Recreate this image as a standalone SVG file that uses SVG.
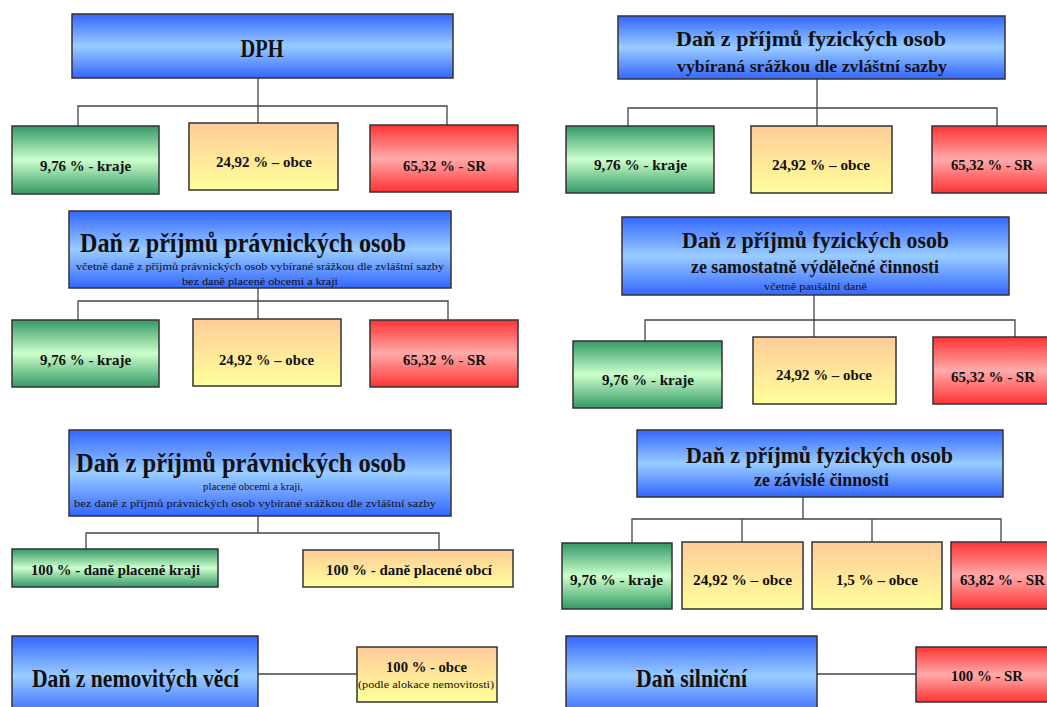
<svg xmlns="http://www.w3.org/2000/svg" width="1047" height="707" viewBox="0 0 1047 707">
<defs>
<linearGradient id="gBlue" x1="0" y1="0" x2="0" y2="1"><stop offset="0" stop-color="#3366ff"/><stop offset="0.5" stop-color="#99ccff"/><stop offset="1" stop-color="#3366ff"/></linearGradient>
<linearGradient id="gGreen" x1="0" y1="0" x2="0" y2="1"><stop offset="0" stop-color="#339966"/><stop offset="0.5" stop-color="#ccffcc"/><stop offset="1" stop-color="#339966"/></linearGradient>
<linearGradient id="gOrange" x1="0" y1="0" x2="0" y2="1"><stop offset="0" stop-color="#ffcc99"/><stop offset="1" stop-color="#ffff99"/></linearGradient>
<linearGradient id="gRed" x1="0" y1="0" x2="0" y2="1"><stop offset="0" stop-color="#ff3333"/><stop offset="0.5" stop-color="#ffaaaa"/><stop offset="1" stop-color="#ff3333"/></linearGradient>
</defs>
<style>
.box{stroke:#333;stroke-width:1.5}
.blue{fill:url(#gBlue)}
.green{fill:url(#gGreen)}
.orange{fill:url(#gOrange)}
.red{fill:url(#gRed)}
text{font-family:"Liberation Serif","Times New Roman",serif;font-weight:bold;fill:#111;text-anchor:middle}
.lbl{font-size:15px}
.sm{font-size:11px;font-weight:normal}
.conn path{fill:none;stroke:#444;stroke-width:1.3}
</style>
<rect x="0" y="0" width="1047" height="707" fill="#fff"/>
<g class="conn">
<path d="M258,78V106M78,126V106H447V125M258,106V123"/>
<path d="M817,79V108M628,126V108H997V126M817,108V126"/>
<path d="M258,288V301M78,320V301H448V320M258,301V319"/>
<path d="M814,295V320M645,341V320H1015V337M814,320V337"/>
<path d="M258,516V533M86,549V533H439V550"/>
<path d="M803,497V519M632,543V519H1001V542M742,519V542M872,519V542"/>
<path d="M258,674H357"/>
<path d="M817,674H916"/>
</g>
<g id="n-dph"><rect class="box blue" x="72" y="14" width="381" height="64"/><text x="262" y="57" font-size="26" textLength="43" lengthAdjust="spacingAndGlyphs">DPH</text></g>
<g id="n-dph-kraje"><rect class="box green" x="12" y="126" width="147" height="68"/><text class="lbl" x="85.5" y="171" textLength="91" lengthAdjust="spacingAndGlyphs">9,76 % - kraje</text></g>
<g id="n-dph-obce"><rect class="box orange" x="189" y="123" width="149" height="67"/><text class="lbl" x="264" y="167" textLength="96" lengthAdjust="spacingAndGlyphs">24,92 % – obce</text></g>
<g id="n-dph-sr"><rect class="box red" x="370" y="125" width="148" height="67"/><text class="lbl" x="444.5" y="171" textLength="83" lengthAdjust="spacingAndGlyphs">65,32 % - SR</text></g>

<g id="n-fo-srazka"><rect class="box blue" x="618" y="16" width="387" height="63"/><text x="811" y="46" font-size="21" textLength="270" lengthAdjust="spacingAndGlyphs">Daň z příjmů fyzických osob</text><text x="812" y="72" font-size="16" textLength="270" lengthAdjust="spacingAndGlyphs">vybíraná srážkou dle zvláštní sazby</text></g>
<g id="n-fo-srazka-kraje"><rect class="box green" x="566" y="126" width="148" height="67"/><text class="lbl" x="640.5" y="170" textLength="93" lengthAdjust="spacingAndGlyphs">9,76 % - kraje</text></g>
<g id="n-fo-srazka-obce"><rect class="box orange" x="751" y="126" width="141" height="67"/><text class="lbl" x="821" y="170" textLength="98" lengthAdjust="spacingAndGlyphs">24,92 % – obce</text></g>
<g id="n-fo-srazka-sr"><rect class="box red" x="932" y="126" width="130" height="67"/><text class="lbl" x="992" y="170" textLength="82" lengthAdjust="spacingAndGlyphs">65,32 % - SR</text></g>

<g id="n-po"><rect class="box blue" x="69" y="211" width="382" height="77"/><text x="243" y="252" font-size="28" textLength="326" lengthAdjust="spacingAndGlyphs">Daň z příjmů právnických osob</text><text class="sm" x="260" y="270" textLength="368" lengthAdjust="spacingAndGlyphs">včetně daně z příjmů právnických osob vybírané srážkou dle zvláštní sazby</text><text class="sm" x="260" y="285" textLength="156" lengthAdjust="spacingAndGlyphs">bez daně placené obcemi a kraji</text></g>
<g id="n-po-kraje"><rect class="box green" x="12" y="320" width="147" height="67"/><text class="lbl" x="85.5" y="365" textLength="91" lengthAdjust="spacingAndGlyphs">9,76 % - kraje</text></g>
<g id="n-po-obce"><rect class="box orange" x="193" y="319" width="148" height="67"/><text class="lbl" x="266.5" y="365" textLength="95" lengthAdjust="spacingAndGlyphs">24,92 % – obce</text></g>
<g id="n-po-sr"><rect class="box red" x="370" y="320" width="148" height="67"/><text class="lbl" x="444.5" y="365" textLength="83" lengthAdjust="spacingAndGlyphs">65,32 % - SR</text></g>

<g id="n-fo-osvc"><rect class="box blue" x="622" y="217" width="387" height="78"/><text x="815.5" y="248" font-size="24" textLength="267" lengthAdjust="spacingAndGlyphs">Daň z příjmů fyzických osob</text><text x="815" y="273" font-size="19" textLength="248" lengthAdjust="spacingAndGlyphs">ze samostatně výdělečné činnosti</text><text class="sm" x="815.5" y="290" textLength="103" lengthAdjust="spacingAndGlyphs">včetně paušální daně</text></g>
<g id="n-fo-osvc-kraje"><rect class="box green" x="573" y="341" width="149" height="67"/><text class="lbl" x="648" y="385" textLength="92" lengthAdjust="spacingAndGlyphs">9,76 % - kraje</text></g>
<g id="n-fo-osvc-obce"><rect class="box orange" x="753" y="337" width="143" height="67"/><text class="lbl" x="824" y="380" textLength="96" lengthAdjust="spacingAndGlyphs">24,92 % – obce</text></g>
<g id="n-fo-osvc-sr"><rect class="box red" x="933" y="337" width="130" height="67"/><text class="lbl" x="993" y="382" textLength="84" lengthAdjust="spacingAndGlyphs">65,32 % - SR</text></g>

<g id="n-po-obce-kraje"><rect class="box blue" x="69" y="430" width="382" height="86"/><text x="241" y="472" font-size="28" textLength="330" lengthAdjust="spacingAndGlyphs">Daň z příjmů právnických osob</text><text class="sm" x="253" y="490" textLength="100" lengthAdjust="spacingAndGlyphs">placené obcemi a kraji,</text><text class="sm" x="255" y="507" textLength="362" lengthAdjust="spacingAndGlyphs">bez daně z příjmů právnických osob vybírané srážkou dle zvláštní sazby</text></g>
<g id="n-po2-kraje"><rect class="box green" x="12" y="549" width="206" height="38"/><text class="lbl" x="115.5" y="575" textLength="169" lengthAdjust="spacingAndGlyphs">100 % - daně placené kraji</text></g>
<g id="n-po2-obce"><rect class="box orange" x="303" y="550" width="210" height="37"/><text class="lbl" x="409" y="575" textLength="166" lengthAdjust="spacingAndGlyphs">100 % - daně placené obcí</text></g>

<g id="n-fo-zc"><rect class="box blue" x="637" y="430" width="366" height="67"/><text x="819.5" y="463" font-size="24" textLength="267" lengthAdjust="spacingAndGlyphs">Daň z příjmů fyzických osob</text><text x="821.5" y="486" font-size="19" textLength="135" lengthAdjust="spacingAndGlyphs">ze závislé činnosti</text></g>
<g id="n-fo-zc-kraje"><rect class="box green" x="562" y="543" width="110" height="66"/><text class="lbl" x="616.5" y="585" textLength="93" lengthAdjust="spacingAndGlyphs">9,76 % - kraje</text></g>
<g id="n-fo-zc-obce1"><rect class="box orange" x="682" y="542" width="121" height="67"/><text class="lbl" x="742.5" y="585" textLength="99" lengthAdjust="spacingAndGlyphs">24,92 % – obce</text></g>
<g id="n-fo-zc-obce2"><rect class="box orange" x="812" y="542" width="130" height="67"/><text class="lbl" x="877" y="585" textLength="82" lengthAdjust="spacingAndGlyphs">1,5 % – obce</text></g>
<g id="n-fo-zc-sr"><rect class="box red" x="951" y="542" width="110" height="67"/><text class="lbl" x="1002.5" y="585" textLength="85" lengthAdjust="spacingAndGlyphs">63,82 % - SR</text></g>

<g id="n-nem"><rect class="box blue" x="12" y="636" width="246" height="80"/><text x="135.5" y="687" font-size="25" textLength="207" lengthAdjust="spacingAndGlyphs">Daň z nemovitých věcí</text></g>
<g id="n-nem-obce"><rect class="box orange" x="357" y="647" width="140" height="55"/><text class="lbl" x="426.5" y="672" textLength="81" lengthAdjust="spacingAndGlyphs">100 % - obce</text><text class="sm" x="426" y="688" textLength="136" lengthAdjust="spacingAndGlyphs">(podle alokace nemovitosti)</text></g>

<g id="n-silnicni"><rect class="box blue" x="566" y="636" width="251" height="80"/><text x="691.5" y="687" font-size="25" textLength="111" lengthAdjust="spacingAndGlyphs">Daň silniční</text></g>
<g id="n-silnicni-sr"><rect class="box red" x="916" y="647" width="140" height="55"/><text class="lbl" x="987" y="681" textLength="72" lengthAdjust="spacingAndGlyphs">100 % - SR</text></g>
</svg>
